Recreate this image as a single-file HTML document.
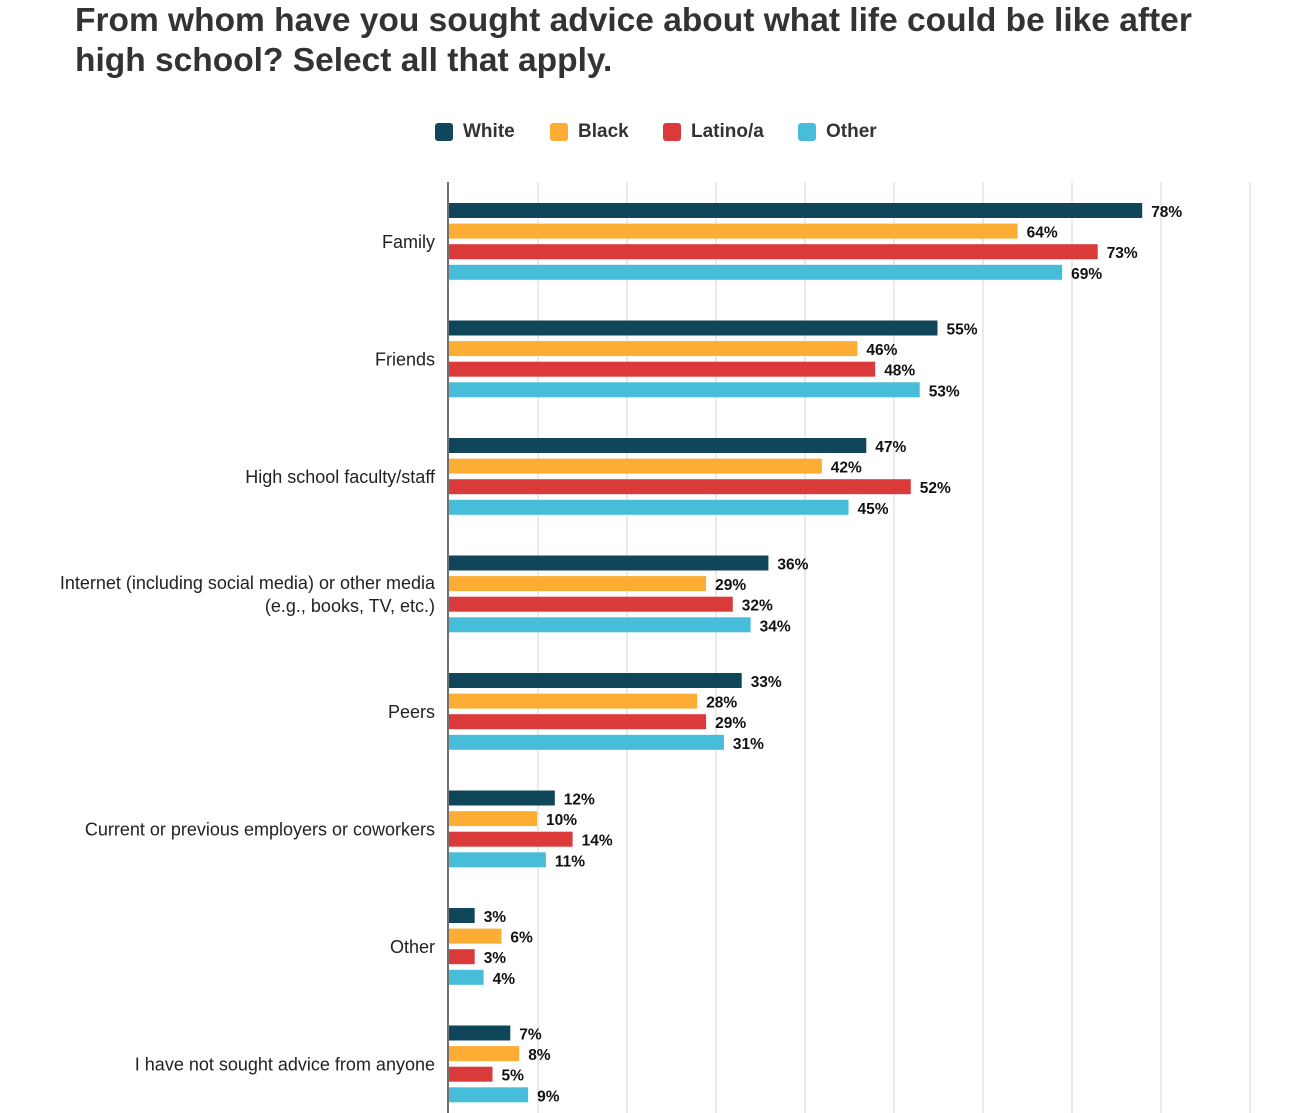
<!DOCTYPE html>
<html><head><meta charset="utf-8"><style>
body{margin:0;background:#fff;font-family:"Liberation Sans",sans-serif;}
#wrap{position:relative;width:1298px;height:1113px;overflow:hidden;}
h1{position:absolute;left:75px;top:1px;margin:0;font-size:33.5px;line-height:40px;font-weight:bold;color:#333;width:1180px;}
.leg{position:absolute;top:121px;font-size:19px;font-weight:bold;color:#333;display:flex;align-items:center;}
.leg i{display:inline-block;width:18px;height:18px;border-radius:3px;margin-right:10px;}
</style></head><body>
<div id="wrap">
<h1>From whom have you sought advice about what life could be like after high school? Select all that apply.</h1>
<div class="leg" style="left:435px"><i style="background:#0f4659"></i>White</div>
<div class="leg" style="left:550px"><i style="background:#fdad33"></i>Black</div>
<div class="leg" style="left:663px"><i style="background:#db3a3b"></i>Latino/a</div>
<div class="leg" style="left:798px"><i style="background:#47bdd9"></i>Other</div>
<svg id="plot" width="1298" height="1113" style="position:absolute;left:0;top:0"></svg>
</div>
<script>
const categories=[["Family"],["Friends"],["High school faculty/staff"],["Internet (including social media) or other media","(e.g., books, TV, etc.)"],["Peers"],["Current or previous employers or coworkers"],["Other"],["I have not sought advice from anyone"]];
const seriesNames=["White","Black","Latino/a","Other"];
const white=[78,55,47,36,33,12,3,7];
const black=[64,46,42,29,28,10,6,8];
const latino=[73,48,52,32,29,14,3,5];
const other=[69,53,45,34,31,11,4,9];
const ticks=[0,10,20,30,40,50,60,70,80,90];
const colors=["#0f4659","#fdad33","#db3a3b","#47bdd9"];
const series=[white,black,latino,other];
const NS="http://www.w3.org/2000/svg";
const svg=document.getElementById('plot');
const x0=448, pxPer=8.9;
function xs(v){return x0+v*pxPer;}
function groupY(i){return 203+i*117.5;}
function barY(i,s){return groupY(i)+s*20.6;}
function mk(t,a){const e=document.createElementNS(NS,t);for(const k in a)e.setAttribute(k,a[k]);svg.appendChild(e);return e;}
ticks.forEach(t=>{if(t===0)return;const l=mk('line',{x1:xs(t)+1,x2:xs(t)+1,y1:182,y2:1113,stroke:'#e3e3e3','stroke-width':1.5});

});
const ax=mk('line',{x1:x0,x2:x0,y1:182,y2:1113,stroke:'#444','stroke-width':1.5});


categories.forEach((c,i)=>{
 const cy=groupY(i)+39;
 c.forEach((line,j)=>{
  const t=mk('text',{x:435,y:cy+6+(j-(c.length-1)/2)*23,'text-anchor':'end','font-size':18,fill:'#222','font-family':'Liberation Sans, sans-serif'});
  t.textContent=line;
  
  
 });
 series.forEach((s,k)=>{
  const y=barY(i,k);
  const r=mk('rect',{x:x0+1,y:y,width:xs(s[i])-x0-1,height:15,fill:colors[k]});
  
  
  const t=mk('text',{x:xs(s[i])+9,y:y+14,'font-size':15.5,'font-weight':'bold',fill:'#111','font-family':'Liberation Sans, sans-serif'});
  t.textContent=s[i]+'%';
  
  
 });
});
</script>
</body></html>
